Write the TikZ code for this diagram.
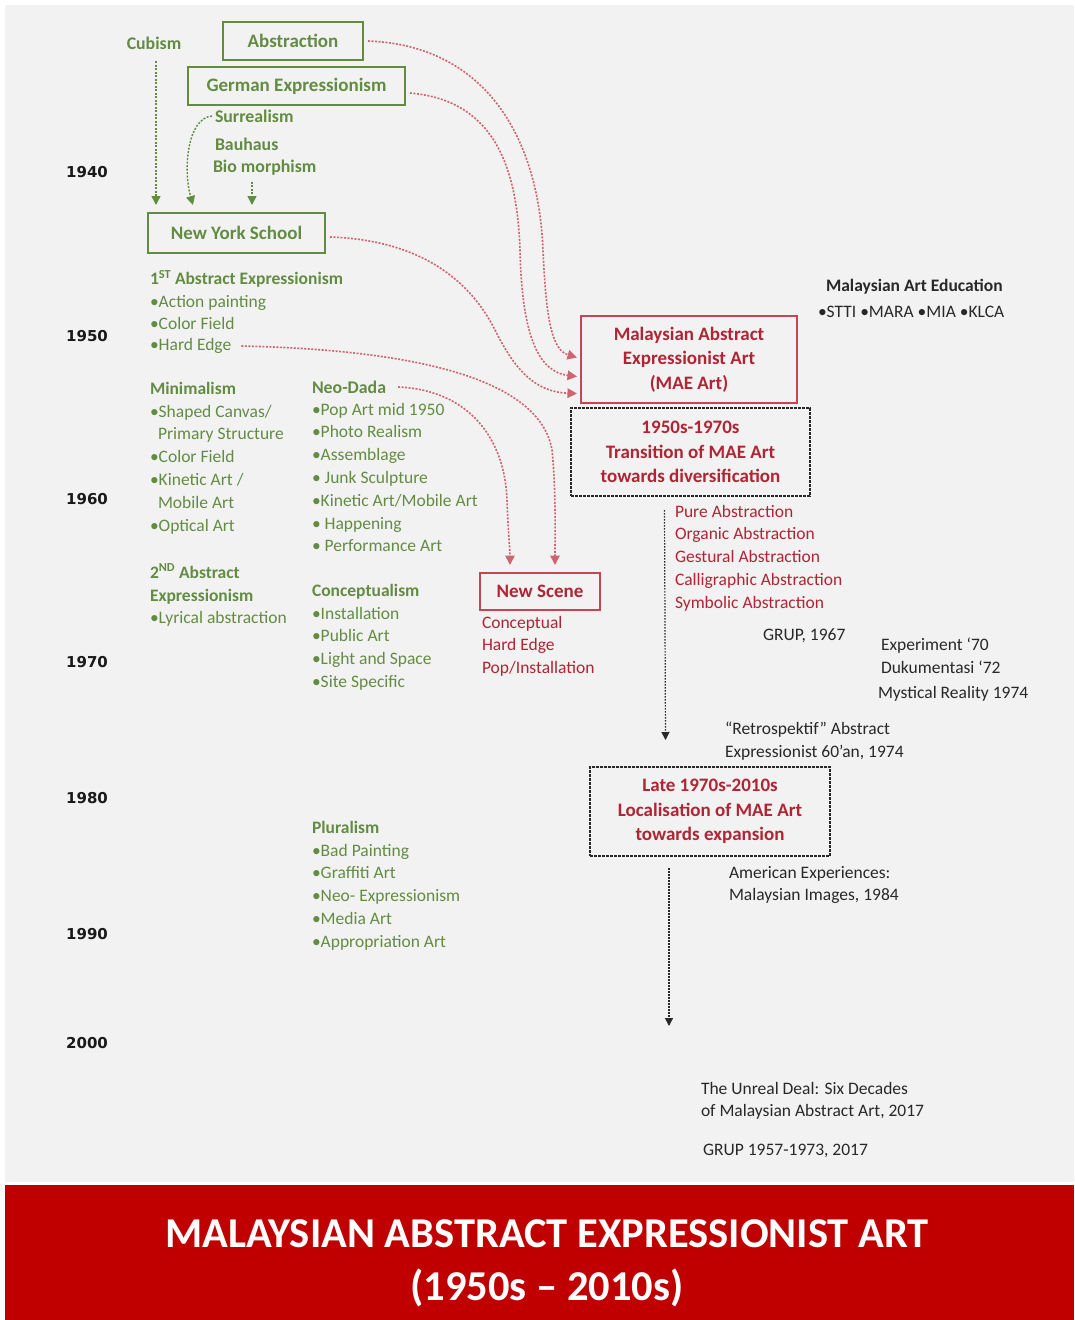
\documentclass[tikz,border=0pt]{standalone}
\usepackage{fontspec}
\setmainfont{Carlito}
\newfontfamily\yearfont{DejaVu Sans}
\usetikzlibrary{arrows.meta,calc}
\definecolor{bgc}{HTML}{F2F2F2}
\definecolor{grn}{RGB}{98,140,66}
\definecolor{redt}{RGB}{176,36,52}
\definecolor{redl}{RGB}{196,70,82}
\definecolor{redc}{RGB}{205,100,112}
\definecolor{blk}{RGB}{40,40,40}
\definecolor{banner}{HTML}{C00000}
\begin{document}
\begin{tikzpicture}[x=1pt,y=-1pt,
  every node/.style={inner sep=0pt, outer sep=0pt},
  txt/.style={font=\fontsize{17.5}{22.8}\selectfont, align=left},
  gtxt/.style={txt, text=grn},
  gbold/.style={gtxt, font=\fontsize{17.8}{22.8}\selectfont\bfseries},
  gbox/.style={draw=grn, line width=2pt, text=grn, font=\fontsize{19}{22}\selectfont\bfseries},
  rbox/.style={draw=redl, line width=2pt, text=redt, font=\fontsize{19}{24.5}\selectfont\bfseries, align=center},
  kbox/.style={draw=blk, line width=1.5pt, dash pattern=on 3pt off 1pt, text=redt, font=\fontsize{19}{24.5}\selectfont\bfseries, align=center},
  rtxt/.style={txt, text=redt},
  ktxt/.style={txt, text=blk},
  kbold/.style={ktxt, font=\fontsize{17.5}{22.8}\selectfont\bfseries},
  year/.style={font=\yearfont\fontsize{15}{18}\selectfont\bfseries, text=black!90},
  garrow/.style={draw=grn, line width=1.4pt, dash pattern=on 2pt off 1.5pt, -{Triangle[width=9pt,length=9pt]}},
  rarrow/.style={draw=redc, line width=1.6pt, dash pattern=on 2pt off 1.5pt, -{Triangle[width=9.5pt,length=9.5pt]}},
  karrow/.style={draw=blk, line width=1.2pt, dash pattern=on 1.5pt off 1.5pt, -{Triangle[width=8pt,length=8pt]}},
]
\useasboundingbox (0,0) rectangle (1074,1320);
\fill[white] (0,0) rectangle (1074,1320);
\fill[bgc] (5,5) rectangle (1074,1182);
\fill[banner] (5,1185) rectangle (1074,1320);

% years
\node[year] (y40) at (87,172) {1940};
\node[year] (y50) at (87,336) {1950};
\node[year] (y60) at (87,499) {1960};
\node[year] (y70) at (87,662) {1970};
\node[year] (y80) at (87,798) {1980};
\node[year] (y90) at (87,934) {1990};
\node[year] (y00) at (87,1043) {2000};

% top green
\node[gbold] (cub) at (154,43) {Cubism};
\node[gbox, minimum width=140pt, minimum height=38pt] (abs) at (293,41) {Abstraction};
\node[gbox, minimum width=217pt, minimum height=38pt] (ger) at (296.5,86) {German Expressionism};
\node[gbold, anchor=west] (sur) at (215,116) {Surrealism};
\node[gbold, anchor=west] (bau) at (215,144) {Bauhaus};
\node[gbold, anchor=west] (bio) at (213,168) {Bio morphism};
\node[gbox, minimum width=177pt, minimum height=40pt] (nys) at (236.5,233) {New York School};

\draw[garrow] ($(cub.south)+(2,12)$) -- ($(nys.north west)+(8,-8)$);
\draw[garrow] ($(sur.west)+(-3,0)$) .. controls +(-25,2) and +(-10,-35) .. ($(nys.north west)+(45,-8)$);
\draw[garrow] ($(bio.south west)+(39,6)$) -- ($(nys.north west)+(104,-8)$);

% green lists
\node[gtxt, anchor=north west] (ae1) at (150,270) {\textbf{1\textsuperscript{ST} Abstract Expressionism}\\•Action painting\\•Color Field};
\node[gtxt, anchor=west] (he) at (150,346) {•Hard Edge};
\node[gtxt, anchor=north west] (mini) at (150,382) {\textbf{Minimalism}\\•Shaped Canvas/\\\hspace*{8pt}Primary Structure\\•Color Field\\•Kinetic Art /\\\hspace*{8pt}Mobile Art\\•Optical Art};
\node[gtxt, anchor=north west] (ae2) at (150,564) {\textbf{2\textsuperscript{ND} Abstract}\\\textbf{Expressionism}\\•Lyrical abstraction};
\node[gbold, anchor=west] (nd) at (312,387) {Neo-Dada};
\node[gtxt, anchor=north west] (ndl) at (312,403) {•Pop Art mid 1950\\•Photo Realism\\•Assemblage\\• Junk Sculpture\\•Kinetic Art/Mobile Art\\• Happening\\• Performance Art};
\node[gtxt, anchor=north west] (con) at (312,584) {\textbf{Conceptualism}\\•Installation\\•Public Art\\•Light and Space\\•Site Specific};
\node[gtxt, anchor=north west] (plu) at (312,821) {\textbf{Pluralism}\\•Bad Painting\\•Graffiti Art\\•Neo- Expressionism\\•Media Art\\•Appropriation Art};

% red boxes
\node[rbox, minimum width=216pt, minimum height=87pt] (mae) at (689,359.5) {Malaysian Abstract\\Expressionist Art\\(MAE Art)};
\node[kbox, minimum width=239pt, minimum height=88pt] (trans) at (690.5,452) {1950s-1970s\\Transition of MAE Art\\towards diversification};
\node[kbox, minimum width=240pt, minimum height=89pt] (late) at (710,811.5) {Late 1970s-2010s\\Localisation of MAE Art\\towards expansion};
\node[rbox, minimum width=120pt, minimum height=37pt] (ns) at (540,591.5) {New Scene};

\node[rtxt, anchor=north west] (rl) at (675,505) {Pure Abstraction\\Organic Abstraction\\Gestural Abstraction\\Calligraphic Abstraction\\Symbolic Abstraction};
\node[rtxt, anchor=north west] (nsl) at (482,616) {Conceptual\\Hard Edge\\Pop/Installation};

% red connectors
\draw[rarrow] ($(abs.east)+(5,0)$) .. controls (480,45) and (538,130) .. (543,250) .. controls (546,320) and (552,350) .. ($(mae.west)+(-4,-2)$);
\draw[rarrow] ($(ger.east)+(5,7)$) .. controls (490,100) and (517,160) .. (520,250) .. controls (522,340) and (540,372) .. ($(mae.west)+(-4,17)$);
\draw[rarrow] ($(nys.east)+(5,4)$) .. controls (420,240) and (470,280) .. (495,330) .. controls (515,370) and (535,392) .. ($(mae.west)+(-4,34)$);
\draw[rarrow] ($(he.east)+(10,0)$) .. controls (420,350) and (540,380) .. (552,450) .. controls (556,490) and (555,530) .. ($(ns.north)+(15,-8)$);
\draw[rarrow] ($(nd.east)+(12,0)$) .. controls (470,390) and (505,440) .. (507,500) .. controls (508,530) and (510,550) .. ($(ns.north)+(-30,-8)$);

% black connectors
\draw[karrow] ($(trans.south)+(-26,14)$) -- ($(trans.south)+(-25,244)$);
\draw[karrow] ($(late.south)+(-41,12)$) -- ($(late.south)+(-41,170)$);

% black texts
\node[kbold, anchor=west] (edu) at (826,287) {Malaysian Art Education};
\node[ktxt, anchor=west] (edul) at (818,312) {•STTI •MARA •MIA •KLCA};
\node[ktxt, anchor=west] (g67) at (763,636) {GRUP, 1967};
\node[ktxt, anchor=north west] (exp) at (881,638) {Experiment ‘70\\Dukumentasi ‘72};
\node[ktxt, anchor=west] (myst) at (878,694) {Mystical Reality 1974};
\node[ktxt, anchor=north west] (retro) at (725,722) {“Retrospektif” Abstract\\Expressionist 60’an, 1974};
\node[ktxt, anchor=north west] (amer) at (729,866) {American Experiences:\\Malaysian Images, 1984};
\node[ktxt, anchor=north west] (unreal) at (701,1082) {The Unreal Deal: Six Decades\\of Malaysian Abstract Art, 2017};
\node[ktxt, anchor=west] (g17) at (703,1151) {GRUP 1957-1973, 2017};

% title
\node[font=\fontsize{42.5}{54}\selectfont\bfseries, text=white] (t1) at (547,1234) {MALAYSIAN ABSTRACT EXPRESSIONIST ART};
\node[font=\fontsize{42.5}{54}\selectfont\bfseries, text=white] (t2) at (547,1288) {(1950s – 2010s)};
\end{tikzpicture}
\end{document}
